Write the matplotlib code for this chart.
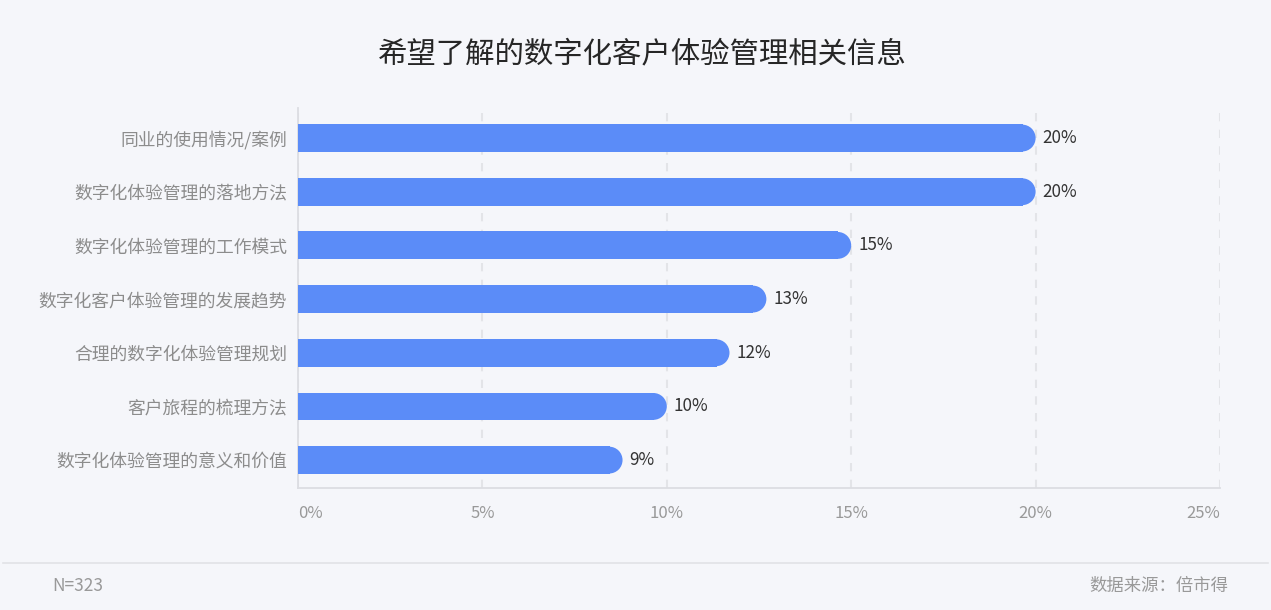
import matplotlib
matplotlib.use('Agg')
import matplotlib.pyplot as plt
from matplotlib.lines import Line2D
from matplotlib.patches import Ellipse

plt.rcParams['font.family'] = ['Noto Sans CJK SC', 'DejaVu Sans']

# data
categories = ['同业的使用情况/案例', '数字化体验管理的落地方法', '数字化体验管理的工作模式',
              '数字化客户体验管理的发展趋势', '合理的数字化体验管理规划', '客户旅程的梳理方法',
              '数字化体验管理的意义和价值']
values = [20.0, 20.0, 15.0, 12.7, 11.7, 10.0, 8.8]
value_labels = ['20%', '20%', '15%', '13%', '12%', '10%', '9%']
xticks = [0, 5, 10, 15, 20, 25]
xtick_labels = ['0%', '5%', '10%', '15%', '20%', '25%']

BG = '#f5f6fa'
BAR = '#5b8cf8'
W, H, DPI = 1271, 610, 100

fig = plt.figure(figsize=(W / DPI, H / DPI), dpi=DPI, facecolor=BG)
ax = fig.add_axes([298 / W, 1 - 488 / H, (1220 - 298) / W, (488 - 108) / H])
ax.set_facecolor(BG)

n = len(categories)
ax.set_xlim(0, 25)
ax.set_ylim(n - 0.48, -0.56)

# bar thickness ~27px, round right end
px_per_unit_x = (1220 - 298) / 25
bar_h = 0.5
bar_px = bar_h * (488 - 108) / (n - 0.48 + 0.56)
r = bar_px / 2 / px_per_unit_x
ypos = list(range(n))
ax.barh(ypos, [v - r for v in values], height=bar_h, color=BAR, linewidth=0,
        snap=False, antialiased=False, zorder=3)
for y, v in zip(ypos, values):
    ax.add_patch(Ellipse((v - r, y), 2 * r, bar_h, facecolor=BAR, linewidth=0,
                         snap=False, zorder=3))

for y, v, lab in zip(ypos, values, value_labels):
    ax.annotate(lab, xy=(v, y), xytext=(5, 0), textcoords='offset points',
                ha='left', va='center', fontsize=12.3, color='#333333')

ax.set_xticks(xticks)
ax.set_xticklabels(xtick_labels, fontsize=12, color='#999999')
tl = ax.get_xticklabels()
tl[0].set_ha('left')
tl[-1].set_ha('right')
ax.set_yticks(ypos)
ax.set_yticklabels(categories, fontsize=12.8, color='#8c8c8c')
ax.tick_params(axis='both', length=0)
ax.tick_params(axis='x', pad=12)
ax.tick_params(axis='y', pad=8)

ax.grid(axis='x', color='#e3e4e8', linestyle=(0, (4, 4)), linewidth=1.5, zorder=0)
for s in ['top', 'right']:
    ax.spines[s].set_visible(False)
ax.spines['left'].set_color('#dcdde2')
ax.spines['bottom'].set_color('#dcdde2')
ax.spines['left'].set_linewidth(1.3)
ax.spines['bottom'].set_linewidth(1.3)

fig.text(642 / W, 1 - 54 / H, '希望了解的数字化客户体验管理相关信息', ha='center', va='center',
         fontsize=21.2, color='#262626')

fig.add_artist(Line2D([3 / W, 1 - 3 / W], [1 - 563 / H, 1 - 563 / H],
                      color='#e1e2e6', linewidth=1.2))
fig.text(52 / W, 1 - 586 / H, 'N=323', ha='left', va='center', fontsize=12.5, color='#999999')
fig.text(1228 / W, 1 - 586 / H, '数据来源：倍市得', ha='right', va='center',
         fontsize=12.5, color='#999999')

fig.savefig('out.png', dpi=DPI, facecolor=BG)
